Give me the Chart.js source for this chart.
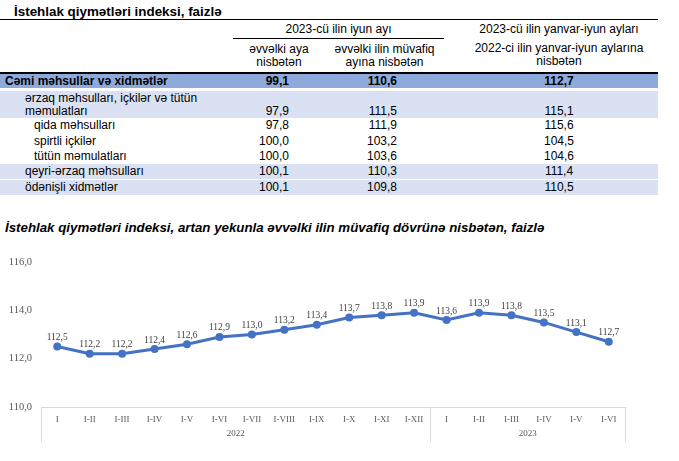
<!DOCTYPE html>
<html>
<head>
<meta charset="utf-8">
<script src="https://cdn.jsdelivr.net/npm/chart.js@4.4.0/dist/chart.umd.min.js"></script>
<style>
  html, body { margin: 0; padding: 0; background: #fff; }
  body { width: 679px; height: 461px; position: relative; overflow: hidden; font-family: "Liberation Sans", Arial, sans-serif; color: #000; }
  .title { position: absolute; left: 14px; top: 3px; font-size: 13.4px; font-weight: bold; line-height: 17px; }
  table.cpi { position: absolute; left: 0; top: 19px; width: 658px; border-collapse: collapse; font-size: 12px; line-height: 13px; table-layout: fixed; }
  table.cpi td { padding: 0; white-space: nowrap; }
  .hdr1 td { height: 18px; border-top: 1px solid #000; text-align: center; }
  .hdr1 .sub { border-bottom: 1px solid #000; }
  .hdr2 td { height: 33px; text-align: center; vertical-align: middle; border-bottom: 2px solid #000; }
  .v1 { text-align: right; padding-right: 36px !important; }
  .v2 { text-align: right; padding-right: 47px !important; }
  .v3 { text-align: center; padding-left: 16px !important; }
  .dark td { background: #8eaadb; height: 14px; font-weight: bold; border-bottom: 3px solid #fff; }
  .light td { background: #d9e1f2; }
  tr.r td { height: 15px; }
  .tall td { height: 27px; vertical-align: bottom; }
  .gap td { border-bottom: 1px solid #fff; }
  .i1 { padding-left: 25px !important; }
  .i2 { padding-left: 34px !important; }
  .i0 { padding-left: 5px !important; }
  .ctitle { position: absolute; left: 5px; top: 220px; font-size: 13.3px; font-weight: bold; font-style: italic; line-height: 16px; }
  #wrap { position: absolute; left: 0; top: 245px; width: 679px; height: 216px; }
</style>
</head>
<body>
<div class="title">İstehlak qiymətləri indeksi, faizlə</div>
<table class="cpi">
  <colgroup><col style="width:233px"><col style="width:92px"><col style="width:119px"><col style="width:214px"></colgroup>
  <tr class="hdr1"><td></td><td colspan="2" class="sub">2023-cü ilin iyun ayı</td><td class="v3">2023-cü ilin yanvar-iyun ayları</td></tr>
  <tr class="hdr2"><td></td><td>əvvəlki aya<br>nisbətən</td><td>əvvəlki ilin müvafiq<br>ayına nisbətən</td><td class="v3">2022-ci ilin yanvar-iyun aylarına<br>nisbətən</td></tr>
  <tr class="dark"><td class="i0">Cəmi məhsullar və xidmətlər</td><td class="v1">99,1</td><td class="v2">110,6</td><td class="v3">112,7</td></tr>
  <tr class="light tall"><td class="i1">ərzaq məhsulları, içkilər və tütün<br>məmulatları</td><td class="v1">97,9</td><td class="v2">111,5</td><td class="v3">115,1</td></tr>
  <tr class="r"><td class="i2">qida məhsulları</td><td class="v1">97,8</td><td class="v2">111,9</td><td class="v3">115,6</td></tr>
  <tr class="r" style="height:16px"><td class="i2">spirtli içkilər</td><td class="v1">100,0</td><td class="v2">103,2</td><td class="v3">104,5</td></tr>
  <tr class="r"><td class="i2">tütün məmulatları</td><td class="v1">100,0</td><td class="v2">103,6</td><td class="v3">104,6</td></tr>
  <tr class="r light gap"><td class="i1">qeyri-ərzaq məhsulları</td><td class="v1">100,1</td><td class="v2">110,3</td><td class="v3">111,4</td></tr>
  <tr class="r light"><td class="i1">ödənişli xidmətlər</td><td class="v1">100,1</td><td class="v2">109,8</td><td class="v3">110,5</td></tr>
</table>
<div class="ctitle">İstehlak qiymətləri indeksi, artan yekunla əvvəlki ilin müvafiq dövrünə nisbətən, faizlə</div>
<div id="wrap"><canvas id="chart"></canvas></div>
<script>
// chart data
const periods = ['I','I-II','I-III','I-IV','I-V','I-VI','I-VII','I-VIII','I-IX','I-X','I-XI','I-XII',
                 'I','I-II','I-III','I-IV','I-V','I-VI'];
const cpiValues = [112.5,112.2,112.2,112.4,112.6,112.9,113.0,113.2,113.4,113.7,113.8,113.9,
                   113.6,113.9,113.8,113.5,113.1,112.7];
const years = ['2022','2023'];
const monthsPerYear = [12,6];
const yTicks = [110,112,114,116];

const fmt = v => v.toFixed(1).replace('.', ',');
const serif = '"Liberation Serif", "Times New Roman", serif';

// value labels above the points
const valueLabels = {
  id: 'valueLabels',
  afterDatasetsDraw(chart) {
    const ctx = chart.ctx;
    const meta = chart.getDatasetMeta(0);
    ctx.save();
    ctx.font = '9.5px ' + serif;
    ctx.fillStyle = '#404040';
    ctx.textAlign = 'center';
    ctx.textBaseline = 'middle';
    meta.data.forEach((pt, i) => ctx.fillText(fmt(cpiValues[i]), pt.x, pt.y - 9));
    ctx.restore();
  }
};

// year groups under the category labels
const yearGroups = {
  id: 'yearGroups',
  afterDraw(chart) {
    const x = chart.scales.x;
    const ctx = chart.ctx;
    const top = x.top, bottom = x.top + 35;
    const edges = [x.left];
    let idx = 0;
    monthsPerYear.forEach(n => {
      idx += n;
      edges.push(idx < periods.length ? (x.getPixelForValue(idx - 1) + x.getPixelForValue(idx)) / 2 : x.right);
    });
    ctx.save();
    ctx.strokeStyle = '#d9d9d9';
    ctx.lineWidth = 1;
    edges.forEach(e => {
      ctx.beginPath();
      ctx.moveTo(Math.round(e) + 0.5, top);
      ctx.lineTo(Math.round(e) + 0.5, bottom);
      ctx.stroke();
    });
    ctx.font = '9px ' + serif;
    ctx.fillStyle = '#595959';
    ctx.textAlign = 'center';
    ctx.textBaseline = 'middle';
    years.forEach((y, g) => ctx.fillText(y, (edges[g] + edges[g + 1]) / 2, top + 27));
    ctx.restore();
  }
};

new Chart(document.getElementById('chart'), {
  type: 'line',
  data: {
    labels: periods,
    datasets: [{
      data: cpiValues,
      borderColor: '#4472c4',
      backgroundColor: '#4472c4',
      borderWidth: 3,
      pointRadius: 4,
      pointHoverRadius: 4,
      pointBackgroundColor: '#4472c4',
      pointBorderWidth: 0,
      tension: 0
    }]
  },
  options: {
    responsive: true,
    maintainAspectRatio: false,
    animation: false,
    layout: { padding: { top: 17, right: 54, left: 0, bottom: 0 } },
    plugins: { legend: { display: false }, tooltip: { enabled: false } },
    scales: {
      x: {
        offset: true,
        grid: { display: false, drawTicks: false },
        border: { color: '#d9d9d9', width: 1 },
        ticks: { color: '#595959', font: { family: serif, size: 9 }, padding: 7, maxRotation: 0, autoSkip: false },
        afterFit: s => { s.height = 54; }
      },
      y: {
        min: 110, max: 116,
        grid: { display: false, drawTicks: false },
        border: { display: false },
        afterBuildTicks: s => { s.ticks = yTicks.map(v => ({ value: v })); },
        ticks: { color: '#595959', font: { family: serif, size: 10.5 }, padding: 9, callback: v => fmt(v) },
        afterFit: s => { s.width = 41; }
      }
    }
  },
  plugins: [valueLabels, yearGroups]
});
</script>
</body>
</html>
